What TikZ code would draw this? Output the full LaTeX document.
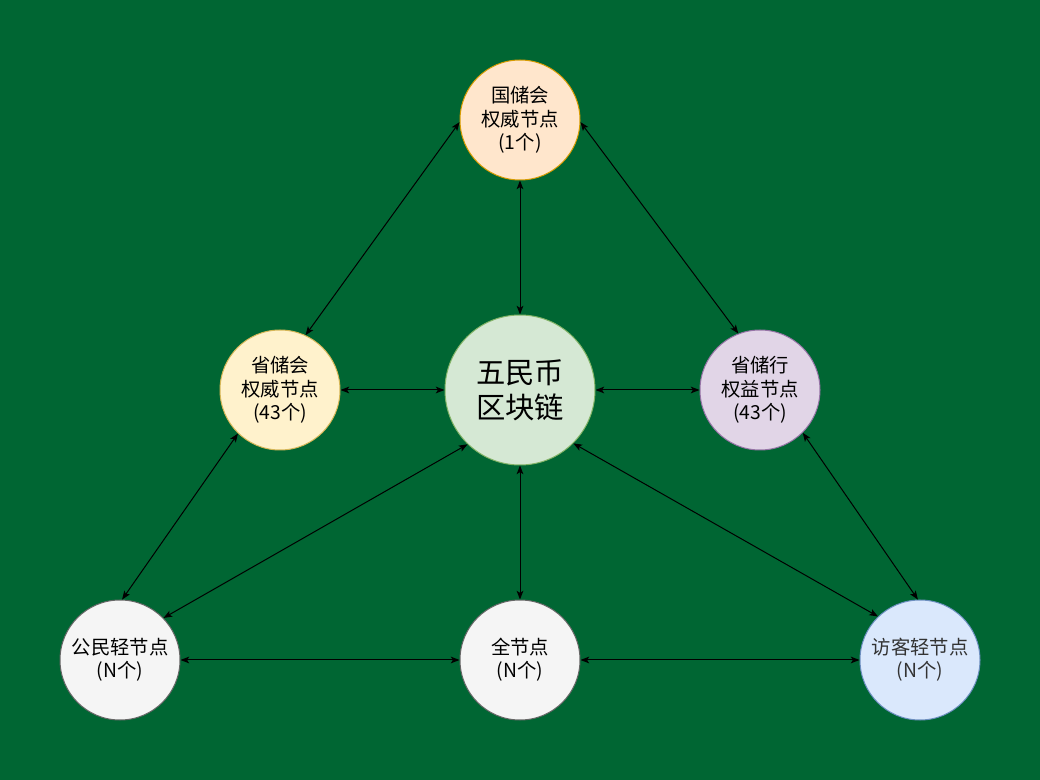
\documentclass[tikz,border=0pt]{standalone}
\usepackage{fontspec}
\setmainfont{Liberation Sans}
\newfontfamily\cjk{Noto Sans CJK SC}
\usetikzlibrary{arrows.meta}
\definecolor{bgreen}{HTML}{006633}
\definecolor{natfill}{HTML}{FFE6CC}\definecolor{natline}{HTML}{D79B00}
\definecolor{provfill}{HTML}{FFF2CC}\definecolor{provline}{HTML}{D6B656}
\definecolor{chainfill}{HTML}{D5E8D4}\definecolor{chainline}{HTML}{82B366}
\definecolor{bankfill}{HTML}{E1D5E7}\definecolor{bankline}{HTML}{9673A6}
\definecolor{greyfill}{HTML}{F5F5F5}\definecolor{greyline}{HTML}{666666}
\definecolor{bluefill}{HTML}{DAE8FC}\definecolor{blueline}{HTML}{6C8EBF}
\definecolor{darktext}{HTML}{333333}
\begin{document}
\begin{tikzpicture}[x=0.75pt,y=-0.75pt,
  nodecirc/.style={circle,minimum size=90pt,inner sep=0pt,line width=0.75pt,
    align=center,font=\cjk\fontsize{14.5}{17.5}\selectfont,text=black},
  link/.style={line width=0.75pt,{Stealth[length=6.5pt,width=5pt,inset=1.5pt]}-{Stealth[length=6.5pt,width=5pt,inset=1.5pt]}}]
  \fill[bgreen] (0,0) rectangle (1040,780);
  \useasboundingbox (0,0) rectangle (1040,780);
  % nodes
  \node[nodecirc,fill=natfill,draw=natline] (nat) at (520,120) {国储会\\权威节点\\(1个)};
  \node[nodecirc,fill=provfill,draw=provline] (prov) at (280,390) {省储会\\权威节点\\(43个)};
  \node[nodecirc,minimum size=112.5pt,fill=chainfill,draw=chainline,font=\cjk\fontsize{22}{26}\selectfont] (chain) at (520,390) {五民币\\区块链};
  \node[nodecirc,fill=bankfill,draw=bankline] (bank) at (760,390) {省储行\\权益节点\\(43个)};
  \node[nodecirc,fill=greyfill,draw=greyline] (citizen) at (120,660) {公民轻节点\\(N个)};
  \node[nodecirc,fill=greyfill,draw=greyline] (full) at (520,660) {全节点\\(N个)};
  \node[nodecirc,fill=bluefill,draw=blueline,text=darktext] (guest) at (920,660) {访客轻节点\\(N个)};
  % links
  \draw[link] (nat.182) -- (prov.65);
  \draw[link] (nat.south) -- (chain.north);
  \draw[link] (nat.-2) -- (bank.111);
  \draw[link] (prov.east) -- (chain.west);
  \draw[link] (chain.east) -- (bank.west);
  \draw[link] (prov.226) -- (citizen.88);
  \draw[link] (chain.226) -- (citizen.44);
  \draw[link] (chain.south) -- (full.north);
  \draw[link] (chain.-45) -- (guest.134);
  \draw[link] (bank.-45) -- (guest.92);
  \draw[link] (citizen.east) -- (full.west);
  \draw[link] (full.east) -- (guest.west);
\end{tikzpicture}
\end{document}
